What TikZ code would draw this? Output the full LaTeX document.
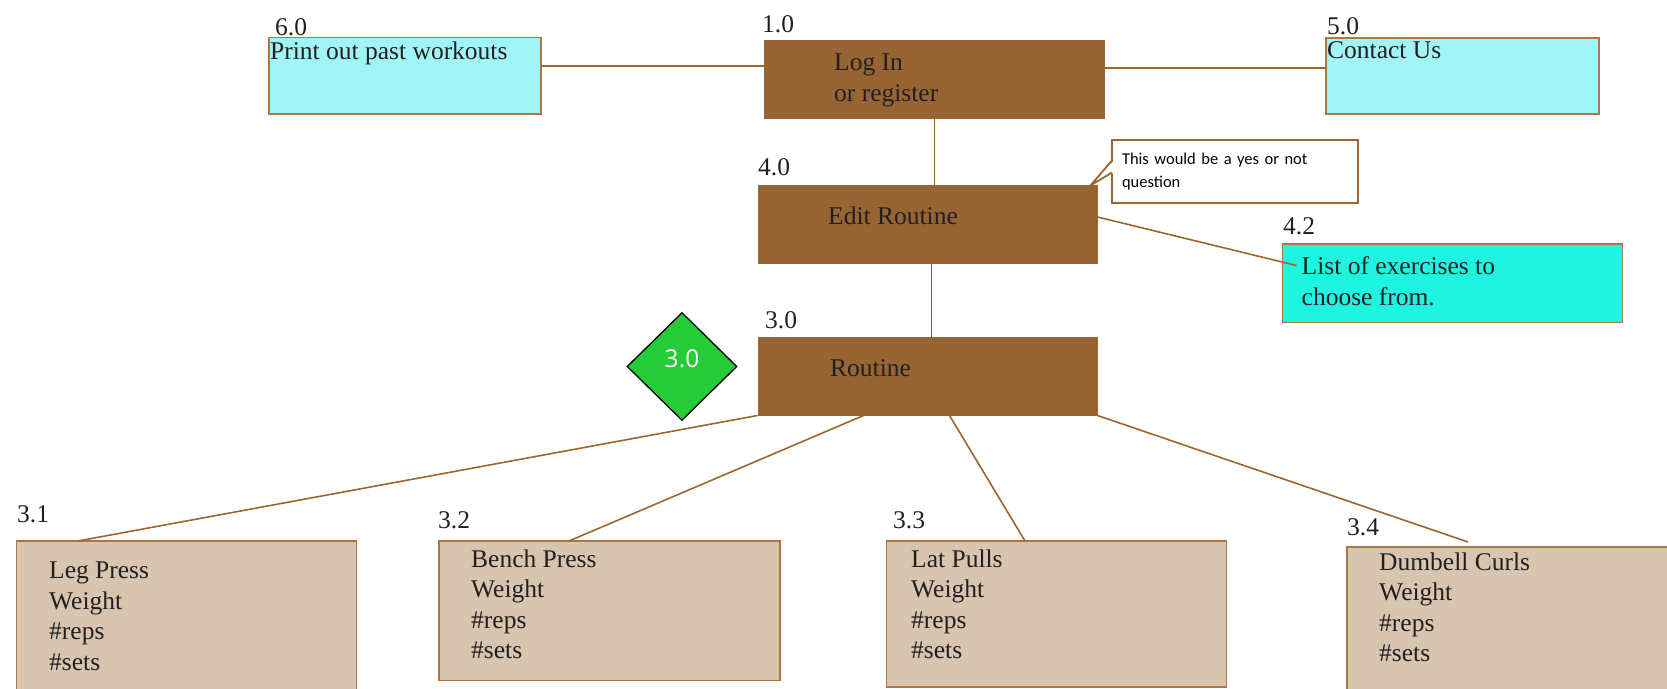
\documentclass[tikz,border=0pt]{standalone}
\usepackage{fontspec}
\setmainfont{Liberation Serif}
\newfontfamily\notefont{Carlito}
\newfontfamily\gemfont{Open Sans}
\usetikzlibrary{shapes.geometric}

\definecolor{barkbrown}{RGB}{151,101,51}
\definecolor{linebrown}{RGB}{156,102,48}
\definecolor{edgebrown}{RGB}{168,120,72}
\definecolor{paleaqua}{RGB}{162,245,247}
\definecolor{aqua}{RGB}{30,245,225}
\definecolor{sand}{RGB}{216,197,176}
\definecolor{leaf}{RGB}{38,203,56}
\definecolor{ink}{RGB}{35,31,32}

\tikzset{
  box/.style={anchor=north west, inner sep=0pt, outer sep=0pt},
  taskbox/.style={box, fill=barkbrown},
  aquabox/.style={box, fill=paleaqua, draw=edgebrown, line width=1.2pt},
  listbox/.style={box, fill=aqua, draw=edgebrown, line width=1.2pt},
  liftbox/.style={box, fill=sand, draw=edgebrown, line width=1.2pt},
  txt/.style={anchor=north west, inner sep=0pt, align=left, text=ink,
    font=\fontsize{25.5}{30.5}\selectfont},
  num/.style={anchor=base west, inner sep=0pt, text=ink,
    font=\fontsize{25.5}{30}\selectfont},
  link/.style={draw=linebrown, line width=1.6pt},
  note/.style={box, draw=linebrown, line width=1.8pt, fill=white, text width=226pt,
    inner xsep=10pt, align=left, font=\notefont\fontsize{16.5}{23}\selectfont},
  notetip/.style={draw=linebrown, line width=1.8pt, line join=miter},
  gem/.style={diamond, draw=black, line width=1.3pt, fill=leaf, minimum width=110pt,
    minimum height=108pt, inner sep=0pt, text=white, text depth=15pt,
    font=\gemfont\fontsize{24.5}{24.5}\selectfont}
}

\begin{document}
\begin{tikzpicture}[x=1pt,y=-1pt]
  \useasboundingbox (0,0) rectangle (1667,688);
  \clip (0,0) rectangle (1667,688);

  % boxes
  \node[aquabox, minimum width=272pt, minimum height=76.5pt] (print) at (269,37.5) {};
  \node[taskbox, minimum width=341pt, minimum height=79pt] (login) at (764,40) {};
  \node[aquabox, minimum width=273pt, minimum height=76pt] (contact) at (1326,38) {};
  \node[taskbox, minimum width=340pt, minimum height=79pt] (edit) at (757.5,184.5) {};
  \node[listbox, minimum width=340pt, minimum height=78.5pt] (exlist) at (1282.5,244) {};
  \node[taskbox, minimum width=340pt, minimum height=79pt] (routine) at (757.5,336.5) {};
  \node[liftbox, minimum width=340pt, minimum height=160pt] (legs) at (16.5,541) {};
  \node[liftbox, minimum width=341pt, minimum height=139.5pt] (bench) at (439,541) {};
  \node[liftbox, minimum width=340pt, minimum height=146pt] (lats) at (886.5,541) {};
  \node[liftbox, minimum width=340pt, minimum height=160pt] (curls) at (1347,547) {};

  % numbers
  \node[num] (n60) at (275,35) {6.0};
  \node[num] (n10) at (762,32) {1.0};
  \node[num] (n50) at (1327,34) {5.0};
  \node[num] (n40) at (758,175) {4.0};
  \node[num] (n42) at (1283,234.5) {4.2};
  \node[num] (n30) at (765,328) {3.0};
  \node[num] (n31) at (17,522) {3.1};
  \node[num] (n32) at (438,528) {3.2};
  \node[num] (n33) at (893,528) {3.3};
  \node[num] (n34) at (1347,535) {3.4};

  % texts
  \node[txt] (printtxt) at (270,41.2) {Print out past workouts};
  \node[txt] (logintxt) at (834,54) {Log In\\or register};
  \node[txt] (contacttxt) at (1327,41.4) {Contact Us};
  \node[txt] (edittxt) at (828,206.4) {Edit Routine};
  \node[txt] (exlisttxt) at (1301.5,256.8) {List of exercises to\\choose from.};
  \node[txt] (routinetxt) at (830,359.4) {Routine};
  \node[txt] (legstxt) at (49,562) {Leg Press\\Weight\\\#reps\\\#sets};
  \node[txt] (benchtxt) at (471,549.4) {Bench Press\\Weight\\\#reps\\\#sets};
  \node[txt] (latstxt) at (911,549.4) {Lat Pulls\\Weight\\\#reps\\\#sets};
  \node[txt] (curlstxt) at (1379,552.4) {Dumbell Curls\\Weight\\\#reps\\\#sets};

  % connectors
  \draw[link] ([yshift=9.75pt]print.east) -- ([yshift=13.5pt]login.west);
  \draw[link] ([yshift=11.5pt]login.east) -- ([yshift=8pt]contact.west);
  \draw[link] (login.south) -- (login.south |- edit.north);
  \draw[link] ([xshift=4pt]edit.south) -- ([xshift=4pt]routine.north);
  \draw[link] ([yshift=7pt]edit.east) -- ([xshift=14pt,yshift=-21.5pt]exlist.north west);
  \draw[link] (routine.south west) -- ([xshift=61.5pt]legs.north west);
  \draw[link] ([xshift=106pt]routine.south west) -- ([xshift=130pt]bench.north west);
  \draw[link] ([xshift=192pt]routine.south west) -- ([xshift=138.5pt]lats.north west);
  \draw[link] (routine.south east) -- ([xshift=121pt,yshift=5pt]curls.north west);

  % callout and diamond
  \node[note, minimum width=246pt, minimum height=63pt] (note) at (1112,140)
    {This would be a yes or not\\question};
  \coordinate (tip) at ([xshift=-7pt,yshift=-1pt]edit.north east);
  \fill[white] ([xshift=2pt,yshift=11pt]note.west) -- (tip) -- ([xshift=2pt,yshift=-1pt]note.west) -- cycle;
  \draw[notetip] ([yshift=11pt]note.west) -- (tip) -- ([yshift=-1pt]note.west);
  \node[gem] (gem) at (682,366.5) {3.0};
\end{tikzpicture}
\end{document}
